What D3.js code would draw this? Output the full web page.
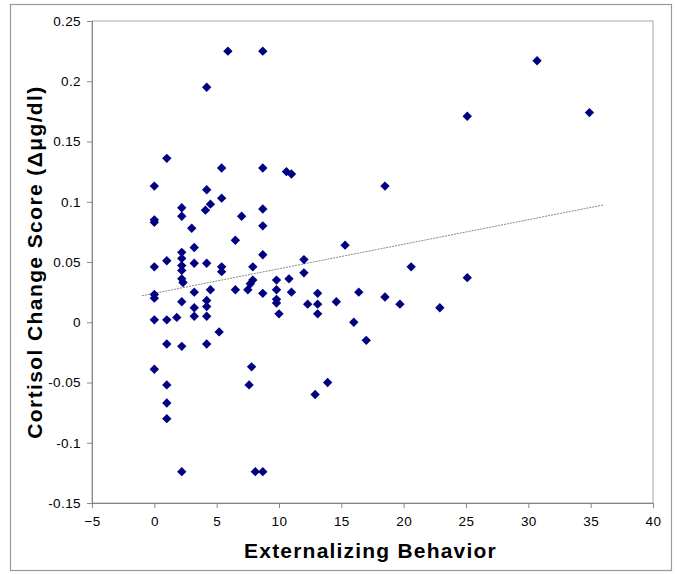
<!DOCTYPE html>
<html><head><meta charset="utf-8">
<script src="https://cdn.jsdelivr.net/npm/d3@7"></script>
<style>body{margin:0;background:#fff}svg{display:block}</style>
</head><body>
<script>
const xTicks = [-5,0,5,10,15,20,25,30,35,40];
const yTicks = [0.25,0.2,0.15,0.1,0.05,0,-0.05,-0.1,-0.15];
const xs = [5.9,8.7,4.2,1.0,5.4,8.7,0,4.2,5.4,4.5,4.1,2.2,2.2,8.7,0,0,7.0,3.0,8.7,6.5,3.2,2.2,2.2,1.0,8.7,3.2,4.2,0,2.2,2.2,5.4,5.4,7.9,2.2,2.3,0,0,3.2,4.5,6.5,7.9,7.7,7.5,8.7,2.2,4.2,4.2,3.2,3.2,4.2,0,1.0,1.8,5.2,1.0,2.2,4.2,0,7.8,1.0,7.6,1.0,1.0,2.2,8.1,8.7,10.6,11.0,18.5,15.3,12.0,12.0,9.8,10.8,9.8,11.0,9.8,9.8,10.0,13.1,12.3,13.1,13.1,14.6,16.4,18.5,19.7,16.0,17.0,20.6,13.9,12.9,30.7,25.1,34.9,25.1,22.9];
const ys = [0.225,0.225,0.195,0.136,0.128,0.128,0.113,0.110,0.103,0.098,0.093,0.095,0.088,0.094,0.085,0.083,0.088,0.078,0.080,0.068,0.062,0.058,0.053,0.051,0.056,0.049,0.049,0.046,0.047,0.043,0.046,0.042,0.046,0.036,0.033,0.023,0.020,0.025,0.027,0.027,0.035,0.032,0.027,0.024,0.017,0.018,0.013,0.012,0.005,0.005,0.002,0.002,0.004,-0.008,-0.018,-0.020,-0.018,-0.039,-0.037,-0.052,-0.052,-0.067,-0.080,-0.124,-0.124,-0.124,0.125,0.123,0.113,0.064,0.052,0.041,0.035,0.036,0.027,0.025,0.019,0.016,0.007,0.024,0.015,0.015,0.007,0.017,0.025,0.021,0.015,0.000,-0.015,0.046,-0.050,-0.060,0.217,0.171,0.174,0.037,0.012];
const trendX = [-1, 36];
const trendY = [0.022, 0.0973];

const W = 677, H = 574;
const L = 92, R = 653, T = 21, B = 503;
const svg = d3.select("body").append("svg").attr("width", W).attr("height", H)
  .style("font-family", "'Liberation Sans', Arial, sans-serif");
svg.append("rect").attr("x", 10.5).attr("y", 4.5).attr("width", 661).attr("height", 566)
  .attr("fill", "#fff").attr("stroke", "#9a9a9a").attr("stroke-width", 1.2);

const x = d3.scaleLinear().domain([-5, 40]).range([L, R]);
const y = d3.scaleLinear().domain([-0.15, 0.25]).range([B, T]);

svg.append("rect").attr("x", L).attr("y", T).attr("width", R - L).attr("height", B - T)
  .attr("fill", "none").attr("stroke", "#a8a8a8").attr("stroke-width", 1);

const xa = svg.append("g").attr("transform", `translate(0,${B})`)
  .call(d3.axisBottom(x).tickValues(xTicks).tickSize(5).tickPadding(8).tickFormat(d3.format("d")));
const ya = svg.append("g").attr("transform", `translate(${L},0)`)
  .call(d3.axisLeft(y).tickValues(yTicks).tickSize(5).tickPadding(6).tickFormat(d => d === 0 ? "0" : String(d)));
[xa, ya].forEach(a => {
  a.select(".domain").attr("stroke", "#888");
  a.selectAll(".tick line").attr("stroke", "#888");
  a.selectAll("text").attr("font-size", 13.5).attr("fill", "#000").attr("letter-spacing", 0.4)
    .style("font-family", "'Liberation Sans', Arial, sans-serif");
});

svg.append("line").attr("x1", x(trendX[0])).attr("y1", y(trendY[0]))
  .attr("x2", x(trendX[1])).attr("y2", y(trendY[1]))
  .attr("stroke", "#888").attr("stroke-width", 1).attr("stroke-dasharray", "2,1");

const sym = d3.symbol().type(d3.symbolDiamond2).size(56);
svg.append("g").selectAll("path").data(xs.map((v, i) => [v, ys[i]])).join("path")
  .attr("d", sym).attr("transform", d => `translate(${x(d[0])},${y(d[1])})`)
  .attr("fill", "#000080");

svg.append("text").attr("x", (L + R) / 2 - 2).attr("y", 558).attr("text-anchor", "middle")
  .attr("font-size", 21).attr("font-weight", "bold").attr("letter-spacing", 1.2)
  .text("Externalizing Behavior");
svg.append("text").attr("transform", `translate(42,${(T + B) / 2}) rotate(-90)`)
  .attr("text-anchor", "middle").attr("font-size", 21).attr("font-weight", "bold")
  .attr("letter-spacing", 1.4)
  .text("Cortisol Change Score (Δμg/dl)");
</script>
</body></html>
